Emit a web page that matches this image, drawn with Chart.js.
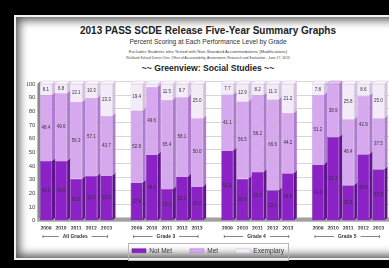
<!DOCTYPE html>
<html>
<head>
<meta charset="utf-8">
<script src="https://cdn.jsdelivr.net/npm/chart.js@4"></script>
<style>
  html, body { margin: 0; padding: 0; background: #000; width: 389px; height: 268px; overflow: hidden; }
  .frame { position: absolute; left: 14px; top: 15px; width: 400px; height: 241px;
           border: 2px solid #f2f2f2; background: #fff; box-shadow: inset 0 0 10px 3px #505050; }
  .line { position: absolute; left: 0; width: 416px; text-align: center; white-space: nowrap;
          font-family: "Liberation Sans", Arial, sans-serif; color: #222; }
  #t1 { top: 24.5px; font-size: 10px; font-weight: bold; }
  #t2 { top: 38px; font-size: 6.6px; color: #333; }
  #t3 { top: 48.5px; font-size: 4.3px; color: #444; }
  #t4 { top: 56px; font-size: 3.4px; color: #444; }
  #t5 { top: 62.5px; font-size: 8.6px; font-weight: bold; }
  #wrap { position: absolute; left: 20px; top: 74px; width: 369px; height: 190px; }
</style>
</head>
<body>
<div class="frame"></div>
<div class="line" id="t1">2013 PASS SCDE Release Five-Year Summary Graphs</div>
<div class="line" id="t2">Percent Scoring at Each Performance Level by Grade</div>
<div class="line" id="t3">Excludes Students who Tested with Non-Standard Accommodations (Modifications)</div>
<div class="line" id="t4">Richland School District One, Office of Accountability, Assessment, Research and Evaluation - June 17, 2013</div>
<div class="line" id="t5">~~ Greenview: Social Studies ~~</div>
<div id="wrap"><canvas id="chart" width="369" height="190"></canvas></div>

<script>
const groups = ["All Grades", "Grade 3", "Grade 4", "Grade 5"];
const years = ["2009", "2010", "2011", "2012", "2013"];
const seriesNames = ["Not Met", "Met", "Exemplary"];

// values per bar, groups in order, 5 years each
const notMet = [43.5, 43.6, 30.6, 32.6, 33.0,  27.8, 48.4, 23.1, 32.2, 25.0,  51.2, 30.6, 35.6, 22.1, 34.6,  41.0, 61.1, 25.8, 48.5, 37.5];
const met = [48.4, 49.6, 56.3, 57.1, 43.7,  52.8, 49.6, 65.4, 58.1, 50.0,  41.1, 56.5, 56.2, 66.6, 44.2,  51.2, 38.9, 48.4, 42.9, 37.5];
const exemplary = [8.1, 6.8, 13.1, 10.3, 23.3,  19.4, 2.0, 11.5, 9.7, 25.0,  7.7, 12.9, 8.2, 11.3, 21.2,  7.8, 0, 25.8, 8.6, 25.0];

const yTicks = [0, 10, 20, 30, 40, 50, 60, 70, 80, 90, 100];

const faceColors = ["#8b22c6", "#d6a9ee", "#f4ebf8"];
const sideColors = ["#5f158b", "#ad7ccc", "#d3c3dd"];
const topColors = ["#a645dc", "#e6c9f5", "#fbf7fd"];

const dx = 3, dy = 3;

// an empty slot between the grade groups
function spread(values) {
  const out = [];
  groups.forEach((g, gi) => {
    if (gi > 0) out.push(null);
    out.push(...values.slice(gi * years.length, (gi + 1) * years.length));
  });
  return out;
}

const labels = spread(groups.flatMap(() => years)).map(v => v === null ? "" : v);

const depthPlugin = {
  id: "depth",
  beforeDatasetsDraw(chart) {
    const ctx = chart.ctx;
    const {left, right, top, bottom} = chart.chartArea;
    const yScale = chart.scales.y;
    ctx.save();
    // back wall grid
    ctx.strokeStyle = "#d6d6d6";
    ctx.lineWidth = 1;
    yTicks.forEach(v => {
      const y = Math.round(yScale.getPixelForValue(v) - dy) + 0.5;
      ctx.beginPath();
      ctx.moveTo(left + dx, y);
      ctx.lineTo(right + dx + 10, y);
      ctx.stroke();
    });
    // left wall
    ctx.fillStyle = "#8a8a8a";
    ctx.beginPath();
    ctx.moveTo(left - 1, bottom);
    ctx.lineTo(left + dx - 1, bottom - dy);
    ctx.lineTo(left + dx - 1, top - dy);
    ctx.lineTo(left - 1, top);
    ctx.closePath();
    ctx.fill();
    // floor
    ctx.fillStyle = "#a0a0a0";
    ctx.beginPath();
    ctx.moveTo(left - 1, bottom);
    ctx.lineTo(right + 10, bottom);
    ctx.lineTo(right + dx + 10, bottom - dy);
    ctx.lineTo(left + dx - 1, bottom - dy);
    ctx.closePath();
    ctx.fill();
    ctx.fillStyle = "#7a7a7a";
    ctx.fillRect(left - 1, bottom, right - left + 12, 1);
    ctx.restore();
  },
  afterDatasetsDraw(chart) {
    const ctx = chart.ctx;
    ctx.save();
    const count = chart.data.labels.length;
    for (let i = 0; i < count; i++) {
      let topEl = null, topIdx = -1;
      chart.data.datasets.forEach((ds, d) => {
        const v = ds.data[i];
        if (v === null || v <= 0) return;
        const el = chart.getDatasetMeta(d).data[i];
        const p = el.getProps(["x", "y", "base", "width"], true);
        const r = p.x + p.width / 2;
        ctx.fillStyle = sideColors[d];
        ctx.beginPath();
        ctx.moveTo(r, p.y);
        ctx.lineTo(r + dx, p.y - dy);
        ctx.lineTo(r + dx, p.base - dy);
        ctx.lineTo(r, p.base);
        ctx.closePath();
        ctx.fill();
        topEl = p; topIdx = d;
      });
      if (topEl) {
        const l = topEl.x - topEl.width / 2, r = topEl.x + topEl.width / 2;
        ctx.fillStyle = topColors[topIdx];
        ctx.strokeStyle = sideColors[topIdx];
        ctx.lineWidth = 0.5;
        ctx.beginPath();
        ctx.moveTo(l, topEl.y);
        ctx.lineTo(l + dx, topEl.y - dy);
        ctx.lineTo(r + dx, topEl.y - dy);
        ctx.lineTo(r, topEl.y);
        ctx.closePath();
        ctx.fill();
        ctx.stroke();
      }
    }
    // segment values
    ctx.fillStyle = "#333";
    ctx.font = "4.5px 'Liberation Sans', Arial, sans-serif";
    ctx.textAlign = "center";
    ctx.textBaseline = "middle";
    chart.data.datasets.forEach((ds, d) => {
      chart.getDatasetMeta(d).data.forEach((el, i) => {
        const v = ds.data[i];
        if (v === null || v < 5) return;
        const p = el.getProps(["x", "y", "base"], true);
        ctx.fillText(v.toFixed(1), p.x, (p.y + p.base) / 2);
      });
    });
    ctx.restore();
  },
  afterDraw(chart) {
    const ctx = chart.ctx;
    const xScale = chart.scales.x;
    ctx.save();
    // group labels under the years
    ctx.font = "bold 5px 'Liberation Sans', Arial, sans-serif";
    ctx.fillStyle = "#333";
    ctx.strokeStyle = "#555";
    ctx.lineWidth = 0.7;
    ctx.textAlign = "center";
    ctx.textBaseline = "middle";
    const y = xScale.top + 16;
    groups.forEach((g, gi) => {
      const i0 = gi * (years.length + 1);
      const x0 = xScale.getPixelForValue(i0) - 3;
      const x1 = xScale.getPixelForValue(i0 + years.length - 1) + 1;
      const mid = (x0 + x1) / 2;
      const tw = ctx.measureText(g).width / 2 + 4;
      ctx.beginPath();
      ctx.moveTo(x0, y); ctx.lineTo(mid - tw, y);
      ctx.moveTo(mid + tw, y); ctx.lineTo(x1, y);
      ctx.moveTo(x0, y - 1.5); ctx.lineTo(x0, y + 1.5);
      ctx.moveTo(x1, y - 1.5); ctx.lineTo(x1, y + 1.5);
      ctx.stroke();
      ctx.fillText(g, mid, y);
    });
    // box round the legend
    const boxes = chart.legend.legendHitBoxes;
    if (boxes && boxes.length) {
      const l = Math.min(...boxes.map(b => b.left)) - 4;
      const r = Math.max(...boxes.map(b => b.left + b.width)) + 4;
      const t = Math.min(...boxes.map(b => b.top)) - 5;
      const b2 = Math.max(...boxes.map(b => b.top + b.height)) + 5;
      ctx.strokeStyle = "#b5b5b5";
      ctx.lineWidth = 1;
      ctx.strokeRect(Math.round(l) + 0.5, Math.round(t) + 0.5, Math.round(r - l), Math.round(b2 - t));
    }
    ctx.restore();
  }
};

new Chart(document.getElementById("chart"), {
  type: "bar",
  data: {
    labels: labels,
    datasets: [notMet, met, exemplary].map((vals, d) => ({
      label: seriesNames[d],
      data: spread(vals),
      backgroundColor: faceColors[d],
      borderColor: sideColors[d],
      borderWidth: 0.5,
      barPercentage: 0.8,
      categoryPercentage: 1.0
    }))
  },
  options: {
    responsive: false,
    animation: false,
    devicePixelRatio: 1,
    layout: { padding: { left: 7, right: 0, top: 10, bottom: 0 } },
    plugins: {
      tooltip: { enabled: false },
      title: { display: false },
      legend: {
        position: "bottom",
        labels: {
          boxWidth: 14,
          boxHeight: 4,
          padding: 18,
          color: "#333",
          font: { size: 6.5, family: "'Liberation Sans', Arial, sans-serif" }
        }
      }
    },
    scales: {
      x: {
        stacked: true,
        grid: { display: false, drawTicks: false },
        border: { display: false },
        ticks: {
          autoSkip: false,
          maxRotation: 0,
          padding: 5,
          color: "#333",
          font: { size: 5, weight: "bold", family: "'Liberation Sans', Arial, sans-serif" }
        },
        afterFit(scale) { scale.height = 9; }
      },
      y: {
        stacked: true,
        min: 0,
        max: 100,
        grid: { display: false, drawTicks: false },
        border: { display: false },
        ticks: {
          stepSize: 10,
          padding: 3,
          color: "#444",
          font: { size: 6, family: "'Liberation Sans', Arial, sans-serif" }
        },
        afterFit(scale) { scale.width = 11.4; }
      }
    }
  },
  plugins: [depthPlugin]
});
</script>
</body>
</html>
